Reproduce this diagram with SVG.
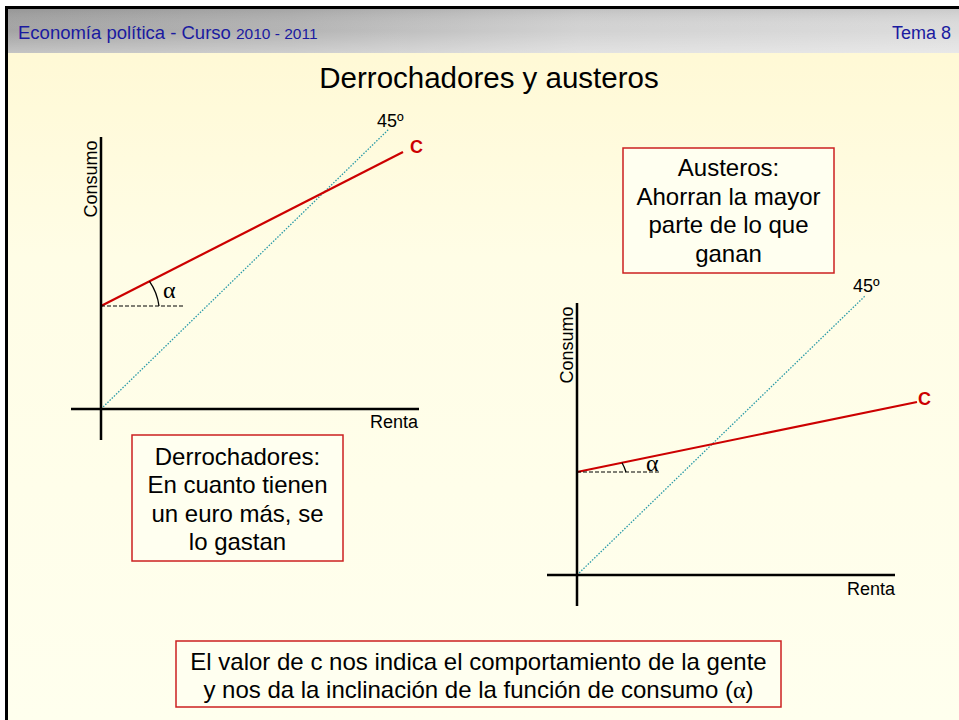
<svg xmlns="http://www.w3.org/2000/svg" width="959" height="720" viewBox="0 0 959 720">
<defs>
<linearGradient id="bg" x1="0" y1="0" x2="0" y2="1">
<stop offset="0" stop-color="#FFF8D2"/>
<stop offset="0.35" stop-color="#FFFDE6"/>
<stop offset="1" stop-color="#FFFFEE"/>
</linearGradient>
<linearGradient id="hdr" x1="0" y1="0" x2="1" y2="0">
<stop offset="0" stop-color="#A4A4A4"/>
<stop offset="0.3" stop-color="#B4B4B4"/>
<stop offset="0.6" stop-color="#D2D2D2"/>
<stop offset="1" stop-color="#DCDCDC"/>
</linearGradient>
<linearGradient id="hdrv" x1="0" y1="0" x2="0" y2="1">
<stop offset="0" stop-color="#000" stop-opacity="0.08"/>
<stop offset="0.5" stop-color="#fff" stop-opacity="0"/>
<stop offset="1" stop-color="#fff" stop-opacity="0.35"/>
</linearGradient>
</defs>
<style>
.t{font-family:"Liberation Sans",Arial,sans-serif;fill:#000}
.hd{font-family:"Liberation Sans",Arial,sans-serif;fill:#1A1AA0}
.box{fill:#FFFFF0;stroke:#CC2020;stroke-width:1.5}
.ax{stroke:#000;stroke-width:2.5;fill:none}
.dash{stroke:#000;stroke-width:1.2;stroke-dasharray:4,2;fill:none}
.diag{stroke:#2A9AA8;stroke-width:1.3;stroke-dasharray:1.5,1.5;fill:none}
.cl{stroke:#CC0000;stroke-width:2.2;fill:none}
.ct{font-family:"Liberation Sans",Arial,sans-serif;font-weight:bold;fill:#CC0000;font-size:18px}
.al{font-family:"Liberation Serif","Times New Roman",serif;font-size:24px;fill:#000}
.bt{font-family:"Liberation Sans",Arial,sans-serif;font-size:24px;fill:#000;text-anchor:middle}
</style>
<rect x="0" y="0" width="959" height="720" fill="#fff"/>
<rect x="5" y="9" width="954" height="711" fill="url(#bg)"/>
<g id="header">
<rect x="5" y="9" width="954" height="44" fill="url(#hdr)"/>
<rect x="5" y="9" width="954" height="44" fill="url(#hdrv)"/>
<rect x="5" y="6" width="954" height="3" fill="#000"/>
<rect x="5" y="6" width="3" height="714" fill="#000"/>
<text class="hd" x="18" y="39" font-size="18.5">Economía política - Curso <tspan font-size="15.5">2010 - 2011</tspan></text>
<text class="hd" x="951" y="39" font-size="18" text-anchor="end">Tema 8</text>
</g>
<text id="title" class="t" x="489" y="88" font-size="29.5" text-anchor="middle">Derrochadores y austeros</text>
<g id="chart-left">
<line class="diag" x1="101" y1="409" x2="389" y2="129"/>
<line class="cl" x1="101" y1="306" x2="403" y2="152"/>
<line class="dash" x1="101" y1="306" x2="184" y2="306"/>
<path d="M149.5,281.3 A55,55 0 0,1 159,306" stroke="#000" stroke-width="1.3" fill="none"/>
<line class="ax" x1="101" y1="137" x2="101" y2="440"/>
<line class="ax" x1="71" y1="409" x2="419" y2="409" stroke-width="1.5"/>
<text class="al" x="163" y="298">α</text>
<text class="t" x="377" y="127" font-size="18">45º</text>
<text class="ct" x="410" y="153">C</text>
<text class="t" x="370" y="428" font-size="18">Renta</text>
<text class="t" font-size="18" text-anchor="middle" transform="translate(97,179) rotate(-90)">Consumo</text>
</g>
<g id="chart-right">
<line class="diag" x1="577" y1="575" x2="865" y2="296"/>
<line class="cl" x1="577" y1="472" x2="917" y2="402"/>
<line class="dash" x1="577" y1="472" x2="661" y2="472"/>
<path d="M622,462.8 A48,48 0 0,1 626,472" stroke="#000" stroke-width="1.3" fill="none"/>
<line class="ax" x1="577" y1="303" x2="577" y2="606"/>
<line class="ax" x1="547" y1="575" x2="895" y2="575" stroke-width="1.5"/>
<text class="al" x="646" y="471">α</text>
<text class="t" x="853" y="292" font-size="18">45º</text>
<text class="ct" x="918" y="405">C</text>
<text class="t" x="847" y="595" font-size="18">Renta</text>
<text class="t" font-size="18" text-anchor="middle" transform="translate(573,345) rotate(-90)">Consumo</text>
</g>
<g id="box-derrochadores">
<rect class="box" x="132" y="435" width="211" height="126"/>
<text class="bt" x="237.5" y="465">Derrochadores:</text>
<text class="bt" x="237.5" y="493">En cuanto tienen</text>
<text class="bt" x="237.5" y="522">un euro más, se</text>
<text class="bt" x="237.5" y="550">lo gastan</text>
</g>
<g id="box-austeros">
<rect class="box" x="623" y="148" width="211" height="125"/>
<text class="bt" x="728.5" y="176">Austeros:</text>
<text class="bt" x="728.5" y="205">Ahorran la mayor</text>
<text class="bt" x="728.5" y="233">parte de lo que</text>
<text class="bt" x="728.5" y="262">ganan</text>
</g>
<g id="box-bottom">
<rect class="box" x="176" y="641" width="605" height="66"/>
<text class="bt" x="478.5" y="670">El valor de c nos indica el comportamiento de la gente</text>
<text class="bt" x="478.5" y="698">y nos da la inclinación de la función de consumo (<tspan font-family="Liberation Serif,serif">α</tspan>)</text>
</g>
</svg>
